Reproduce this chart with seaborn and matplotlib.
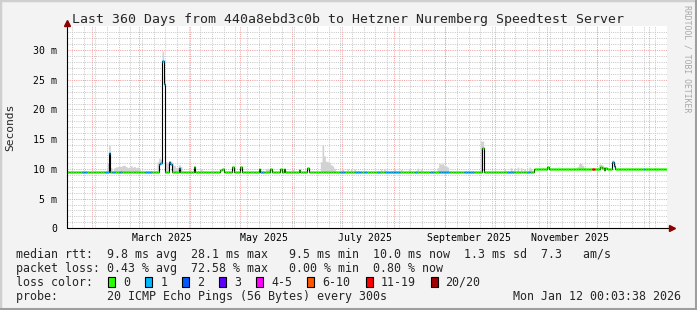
import numpy as np
import pandas as pd
import matplotlib
matplotlib.use("Agg")
import matplotlib.pyplot as plt
import matplotlib.dates as mdates
from matplotlib.patches import Rectangle
import seaborn as sns

# ------------------------------------------------------------------ data
START = "2025-01-17 00:03:38"
END = "2026-01-12 00:03:38"
N_DAYS = 360

# baseline median rtt (ms): level starts at given day index
level_start_day = [0, 280, 329]
level_ms = [9.5, 9.93, 10.03]

# days where the median leaves the baseline (ms)
dev_day = [25, 55, 56, 57, 58, 61, 62, 67, 76, 92, 93, 99, 104, 115, 122, 128,
           130, 139, 144, 249, 288, 320, 321, 322, 323, 324, 327, 328]
dev_ms = [12.7, 10.8, 11.0, 28.1, 24.3, 11.1, 10.9, 10.2, 10.4, 9.8, 9.9, 10.3,
          10.4, 9.9, 9.9, 9.9, 9.9, 9.8, 10.2, 13.6, 10.4, 10.25, 10.2, 9.8,
          10.1, 10.05, 11.2, 10.5]

# packet-loss class runs (inclusive day ranges, index into loss_labels)
loss_run_first = [9, 23, 27, 31, 47, 55, 61, 67, 116, 164, 173, 178, 186, 191,
                  209, 218, 223, 238, 264, 276, 315, 327, 346]
loss_run_last = [11, 25, 28, 32, 50, 58, 62, 67, 117, 166, 176, 179, 187, 199,
                 209, 219, 228, 243, 267, 277, 316, 328, 346]
loss_run_class = [1, 1, 1, 1, 1, 1, 1, 1, 1, 1, 1, 1, 1, 1,
                  1, 1, 1, 1, 1, 1, 6, 1, 1]

# smoke: upper envelope of the ping spread (ms)
smoke_day = [24, 25, 26, 28, 29, 30, 31, 32, 33, 34, 35, 36, 37, 38, 39, 40, 41,
             42, 43, 54, 55, 56, 57, 58, 59, 60, 61, 62, 63, 64, 65, 66, 67, 68,
             76, 80, 99, 104, 119, 120, 121, 135, 152, 153, 154, 155, 156, 157,
             158, 159, 160, 165, 168, 170, 172, 188, 190, 196, 200, 205, 210,
             212, 222, 223, 224, 225, 226, 227, 228, 248, 249, 262, 266, 268,
             270, 272, 274, 277, 278, 285, 292, 306, 307, 308, 309, 310, 318,
             319, 320, 321, 322, 327, 328]
smoke_top_ms = [11.0, 14.0, 10.2, 10.2, 10.3, 10.4, 10.5, 10.4, 10.6, 10.6, 10.4,
                10.2, 10.3, 10.5, 10.3, 10.4, 10.2, 10.3, 10.1, 11.2, 11.8, 11.6,
                29.8, 25.5, 11.2, 11.0, 11.4, 11.3, 10.8, 10.6, 10.2, 10.3, 10.7,
                10.4, 10.6, 10.0, 10.5, 10.5, 10.0, 10.1, 10.0, 9.9, 11.2, 14.0,
                12.2, 11.3, 11.2, 11.1, 10.7, 10.5, 10.1, 9.9, 10.0, 9.9, 10.0,
                10.0, 10.0, 10.1, 9.9, 10.0, 10.1, 9.9, 10.2, 10.9, 10.8, 10.9,
                10.6, 10.5, 10.3, 14.7, 14.7, 10.0, 10.2, 10.1, 10.3, 10.2, 10.0,
                10.3, 10.1, 10.2, 10.1, 10.4, 10.9, 10.9, 10.6, 10.3, 10.3, 10.8,
                10.8, 10.6, 10.4, 11.5, 10.9]

loss_labels = ["0", "1", "2", "3", "4-5", "6-10", "11-19", "20/20"]
loss_colors = ["#26ff00", "#00b8ff", "#0059ff", "#5e00ff", "#ff00ff",
               "#ff5500", "#ff0000", "#a10000"]

y_major_ms = [0, 5, 10, 15, 20, 25, 30]
y_tick_labels = ["0", "5 m", "10 m", "15 m", "20 m", "25 m", "30 m"]
x_label_dates = ["2025-03-15", "2025-05-15", "2025-07-15", "2025-09-15", "2025-11-15"]
x_tick_labels = ["March 2025", "May 2025", "July 2025", "September 2025", "November 2025"]

title = "Last 360 Days from 440a8ebd3c0b to Hetzner Nuremberg Speedtest Server"
legend_rows = [
    "median rtt:  9.8 ms avg  28.1 ms max   9.5 ms min  10.0 ms now  1.3 ms sd  7.3   am/s",
    "packet loss: 0.43 % avg  72.58 % max   0.00 % min  0.80 % now",
]
loss_row_label = "loss color:"
probe_text = "probe:       20 ICMP Echo Pings (56 Bytes) every 300s"
stamp_text = "Mon Jan 12 00:03:38 2026"
credit_text = "RRDTOOL / TOBI OETIKER"

# ------------------------------------------------------------------ build series
start = pd.Timestamp(START)
end = pd.Timestamp(END)
day = np.arange(N_DAYS)
t = start + pd.to_timedelta(day + 0.5, unit="D")
x = mdates.date2num(t.to_pydatetime())
half = 0.5

median = np.empty(N_DAYS)
bounds = level_start_day + [N_DAYS]
for s, e, v in zip(bounds[:-1], bounds[1:], level_ms):
    median[s:e] = v
median[dev_day] = dev_ms

loss = np.zeros(N_DAYS, dtype=int)
for a, b, c in zip(loss_run_first, loss_run_last, loss_run_class):
    loss[a:b + 1] = c

top = median.copy()
top[smoke_day] = np.maximum(top[smoke_day], smoke_top_ms)

df = pd.DataFrame({"x": x, "median": median, "top": top, "loss": loss})

# ------------------------------------------------------------------ figure
sns.set_style("white")
plt.rcParams["font.family"] = ["DejaVu Sans Mono", "DejaVu Sans"]

W, H = 697, 310
fig = plt.figure(figsize=(W / 100, H / 100), dpi=100, facecolor="#f3f3f3")

ax_l, ax_r, ax_b, ax_t = 67, 667, 228.3, 26.3
ax = fig.add_axes([ax_l / W, 1 - ax_b / H, (ax_r - ax_l) / W, (ax_b - ax_t) / H])
ax.set_facecolor("white")
ymax = 34
ax.set_xlim(mdates.date2num(start), mdates.date2num(end))
ax.set_ylim(0, ymax)
for s in ax.spines.values():
    s.set_visible(False)

dot = (0, (1, 1.2))
gkw = dict(lw=0.72, ls=dot)
# minor grid
for mon in pd.date_range("2025-01-20", END, freq="7D"):
    ax.axvline(mdates.date2num(mon), color="#c8c8c8", zorder=0.5, **gkw)
for v in range(1, ymax):
    if v % 5:
        ax.axhline(v, color="#c8c8c8", zorder=0.5, **gkw)
# major grid
for m in pd.date_range("2025-02-01", END, freq="MS"):
    ax.axvline(mdates.date2num(m), color="#f0a0a0", zorder=0.6, **gkw)
for v in y_major_ms[1:]:
    ax.axhline(v, color="#f0a0a0", zorder=0.6, **gkw)

# smoke
ax.fill_between(df["x"], df["median"], df["top"], step="mid",
                color="#d2d2d2", lw=0, zorder=1)
# median (black connector)
sns.lineplot(data=df, x="x", y="median", ax=ax, color="black", lw=0.8,
             drawstyle="steps-mid", estimator=None, zorder=2)
# loss-coloured median
ax.hlines(df["median"], df["x"] - half, df["x"] + half,
          colors=[loss_colors[c] for c in df["loss"]], lw=1.8,
          capstyle="butt", zorder=3)

ax.set_xlabel("")
ax.set_ylabel("")
ax.set_yticks(y_major_ms)
ax.set_yticklabels(y_tick_labels)
ax.set_xticks(mdates.date2num(pd.to_datetime(x_label_dates).to_pydatetime()))
ax.set_xticklabels(x_tick_labels)
ax.tick_params(axis="y", length=0, pad=7.2, labelsize=7.1, colors="black")
ax.tick_params(axis="x", length=0, pad=3.2, labelsize=7.1, colors="black")

# axis lines with arrows
ax.plot([0, 0], [0, 1.02], transform=ax.transAxes, color="black", lw=0.8,
        clip_on=False, zorder=5)
ax.plot([0, 1.006], [0, 0], transform=ax.transAxes, color="black", lw=0.8,
        clip_on=False, zorder=5)
ax.plot([0], [1.018], marker="^", ms=4.2, color="#8b0000", transform=ax.transAxes,
        clip_on=False, zorder=6)
ax.plot([1.0075], [0], marker=">", ms=4.2, color="#8b0000", transform=ax.transAxes,
        clip_on=False, zorder=6)

# texts
def ft(xp, yp, s, **kw):
    return fig.text(xp / W, 1 - yp / H, s, **kw)

ft(W / 2, 19, title, ha="center", va="center", fontsize=9.5)
ft(10, 127, "Seconds", rotation=90, ha="center", va="center", fontsize=8.1)
ft(687.5, 59, credit_text, rotation=270, ha="center", va="center",
   fontsize=5.9, color="#a8a8a8")

row_y = [254.5, 268.3, 282.3, 296.5]
fs_leg = 8.4
cw = 7.02
ft(15.5, row_y[0], legend_rows[0], ha="left", va="center", fontsize=fs_leg)
ft(15.5, row_y[1], legend_rows[1], ha="left", va="center", fontsize=fs_leg)
ft(15.5, row_y[2], loss_row_label, ha="left", va="center", fontsize=fs_leg)
ft(15.5, row_y[3], probe_text, ha="left", va="center", fontsize=fs_leg)
ft(681, row_y[3], stamp_text, ha="right", va="center", fontsize=fs_leg)

bx = 108.3
for lab, col in zip(loss_labels, loss_colors):
    fig.add_artist(Rectangle((bx / W, 1 - 287 / H), 7 / W, 10 / H,
                             transform=fig.transFigure, facecolor=col,
                             edgecolor="black", lw=0.8))
    lx = bx + 15
    ft(lx, row_y[2], lab, ha="left", va="center", fontsize=fs_leg)
    bx = lx + len(lab) * cw + 15

# 3D frame
fig.add_artist(Rectangle((0, 0), 1, 1, transform=fig.transFigure, fill=False,
                         edgecolor="#cfcfcf", lw=2.5))
fig.add_artist(plt.Line2D([0, 1], [0.002, 0.002], transform=fig.transFigure,
                          color="#9e9e9e", lw=2.2))
fig.add_artist(plt.Line2D([0.998, 0.998], [0, 1], transform=fig.transFigure,
                          color="#9e9e9e", lw=2.2))

fig.savefig("out.png", dpi=100, facecolor=fig.get_facecolor())
